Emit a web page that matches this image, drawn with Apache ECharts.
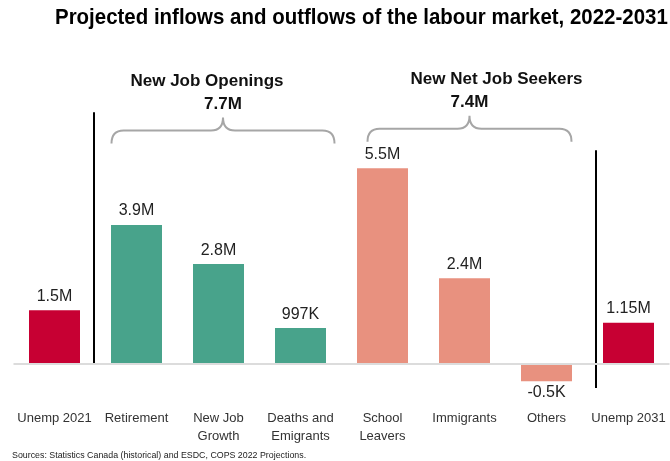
<!DOCTYPE html>
<html>
<head>
<meta charset="utf-8">
<script src="https://cdn.jsdelivr.net/npm/echarts@6/dist/echarts.min.js"></script>
<style>
  html, body { margin: 0; padding: 0; background: #fff; }
  #chart { width: 670px; height: 461px; }
</style>
</head>
<body>
<div id="chart"></div>
<script>
const categories = ["Unemp 2021", "Retirement", "New Job\nGrowth", "Deaths and\nEmigrants", "School\nLeavers", "Immigrants", "Others", "Unemp 2031"];
const values = [1.5, 3.9, 2.8, 0.997, 5.5, 2.4, -0.5, 1.15];
const valueLabels = ["1.5M", "3.9M", "2.8M", "997K", "5.5M", "2.4M", "-0.5K", "1.15M"];
const barKinds = ["unemp", "opening", "opening", "opening", "seeker", "seeker", "seeker", "unemp"];
const groupNames = ["New Job Openings", "New Net Job Seekers"];
const groupTotals = ["7.7M", "7.4M"];
const groupRanges = [[1, 3], [4, 6]];

const colors = { unemp: "#C70033", opening: "#48A38B", seeker: "#E8917F" };
const FONT = "Liberation Sans, Arial, sans-serif";

// decoration layout (pixel offsets relative to category centres)
const bracketLayout = [
  { dl: -25, dr: 34, tip: 6.2, textDx: -16 },
  { dl: -15, dr: 25, tip: 6.25, textDx: 27 }
];
const separatorLayout = [
  { idx: 0, dx: 39.5, top: 7.08, bottom: -0.04 },
  { idx: 6, dx: 49.5, top: 6.01, bottom: -0.69 }
];

const chart = echarts.init(document.getElementById("chart"));

chart.setOption({
  animation: false,
  grid: { left: 13.5, right: 0.5, top: 79.5, bottom: 62 },
  xAxis: {
    type: "category",
    data: categories,
    axisLine: { show: false },
    axisTick: { show: false },
    axisLabel: {
      interval: 0,
      margin: 10,
      fontFamily: FONT,
      fontSize: 13,
      lineHeight: 18,
      color: "#333"
    }
  },
  yAxis: { type: "value", min: -1, max: 8, interval: 1, show: false },
  series: [
    {
      type: "bar",
      barWidth: 51,
      data: values.map((v, i) => ({
        value: v,
        itemStyle: { color: colors[barKinds[i]] },
        label: v < 0 ? { position: "bottom", distance: 3 } : { position: "top" }
      })),
      label: {
        show: true,
        distance: 6,
        fontFamily: FONT,
        fontSize: 16,
        color: "#222",
        formatter: p => valueLabels[p.dataIndex]
      },
      markLine: {
        silent: true,
        symbol: "none",
        label: { show: false },
        lineStyle: { color: "#dcdcdc", width: 2, type: "solid" },
        data: [{ yAxis: 0 }]
      }
    },
    {
      type: "custom",
      silent: true,
      data: groupRanges.map((r, i) => [r[0], r[1], i]),
      renderItem: (params, api) => {
        const i = api.value(2);
        const lay = bracketLayout[i];
        const a = api.coord([api.value(0), lay.tip]);
        const b = api.coord([api.value(1), lay.tip]);
        const L = a[0] + lay.dl, R = b[0] + lay.dr, M = (L + R) / 2;
        const tipY = a[1], hY = tipY - 13, pY = hY - 13;
        const r = 12;
        const path = `M${L},${tipY} Q${L},${hY} ${L + r},${hY} L${M - r},${hY} Q${M},${hY} ${M},${pY} Q${M},${hY} ${M + r},${hY} L${R - r},${hY} Q${R},${hY} ${R},${tipY}`;
        return {
          type: "group",
          children: [
            {
              type: "path",
              shape: { pathData: path },
              style: { fill: null, stroke: "#a6a6a6", lineWidth: 2 }
            },
            {
              type: "text",
              style: {
                text: groupTotals[i], x: M, y: pY - 13,
                align: "center", verticalAlign: "middle",
                font: "bold 17px " + FONT, fill: "#111"
              }
            },
            {
              type: "text",
              style: {
                text: groupNames[i], x: M + lay.textDx, y: pY - 36,
                align: "center", verticalAlign: "middle",
                font: "bold 17px " + FONT, fill: "#111"
              }
            }
          ]
        };
      }
    },
    {
      type: "custom",
      silent: true,
      data: separatorLayout.map((s, i) => [s.idx, i]),
      renderItem: (params, api) => {
        const s = separatorLayout[api.value(1)];
        const t = api.coord([api.value(0), s.top]);
        const b = api.coord([api.value(0), s.bottom]);
        return {
          type: "line",
          shape: { x1: t[0] + s.dx, y1: t[1], x2: b[0] + s.dx, y2: b[1] },
          style: { stroke: "#000", lineWidth: 2 }
        };
      }
    }
  ],
  graphic: [
    {
      type: "text",
      x: 55,
      y: 18,
      scaleX: 0.93,
      style: {
        text: "Projected inflows and outflows of the labour market, 2022-2031",
        font: "bold 22px " + FONT,
        fill: "#000",
        verticalAlign: "middle"
      }
    },
    {
      type: "text",
      x: 12,
      y: 455,
      scaleX: 0.93,
      style: {
        text: "Sources: Statistics Canada (historical) and ESDC, COPS 2022 Projections.",
        font: "9.5px " + FONT,
        fill: "#222",
        verticalAlign: "middle"
      }
    }
  ]
});
</script>
</body>
</html>
